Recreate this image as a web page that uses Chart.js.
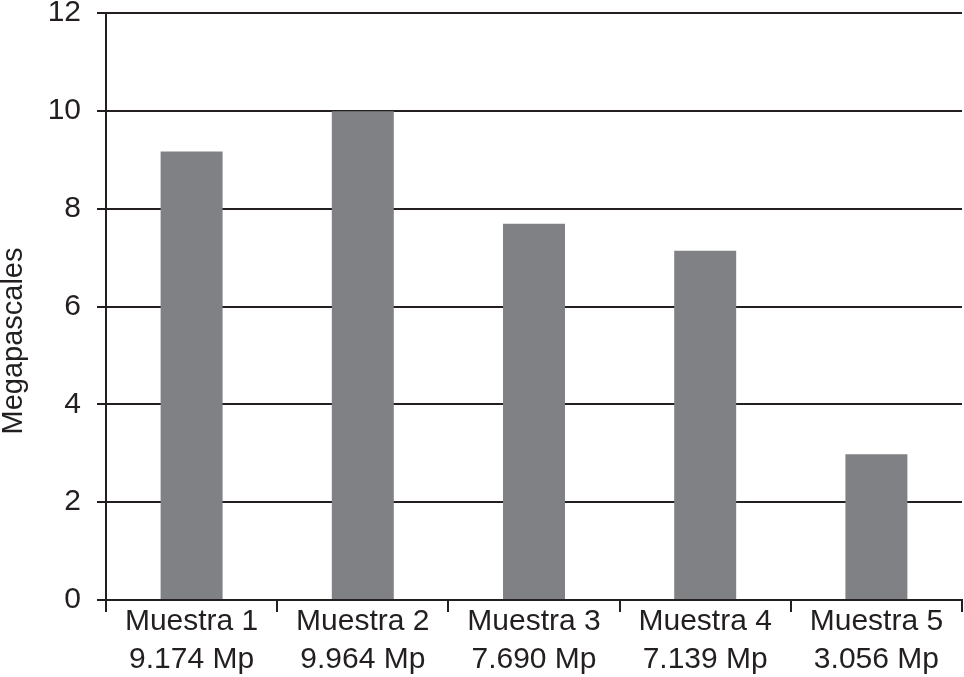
<!DOCTYPE html>
<html>
<head>
<meta charset="utf-8">
<script src="https://cdn.jsdelivr.net/npm/chart.js@4/dist/chart.umd.min.js"></script>
<style>
  html, body { margin: 0; padding: 0; background: #fff; }
  #wrap { width: 964px; height: 677px; position: relative; }
</style>
</head>
<body>
<div id="wrap"><canvas id="chart"></canvas></div>
<script>
// Data
const categories = ["Muestra 1", "Muestra 2", "Muestra 3", "Muestra 4", "Muestra 5"];
const valueLabels = ["9.174 Mp", "9.964 Mp", "7.690 Mp", "7.139 Mp", "3.056 Mp"];
const megapascales = [9.17, 9.99, 7.69, 7.14, 2.98];
const yTicks = [0, 2, 4, 6, 8, 10, 12];

const ink = "#231f20";
const fontFamily = "'Liberation Sans', Arial, sans-serif";

// Rotated y-axis title, sitting a bit below the plot centre like the original
const sideTitle = {
    id: "sideTitle",
    afterDraw(chart) {
        const ctx = chart.ctx;
        ctx.save();
        ctx.translate(14, 341);
        ctx.rotate(-Math.PI / 2);
        ctx.fillStyle = ink;
        ctx.font = "29px " + fontFamily;
        ctx.textAlign = "center";
        ctx.textBaseline = "middle";
        ctx.fillText("Megapascales", 0, 0);
        ctx.restore();
    }
};

new Chart(document.getElementById("chart"), {
    type: "bar",
    data: {
        labels: categories.map((c, i) => [c, valueLabels[i]]),
        datasets: [{
            data: megapascales,
            backgroundColor: "#808184",
            borderWidth: 0,
            categoryPercentage: 1,
            barPercentage: 0.362,
        }]
    },
    options: {
        responsive: true,
        maintainAspectRatio: false,
        animation: false,
        layout: { padding: { top: 13, right: 2, left: 0, bottom: 0 } },
        plugins: {
            legend: { display: false },
            tooltip: { enabled: false },
        },
        scales: {
            x: {
                afterFit: (scale) => { scale.height = 77; },
                grid: {
                    offset: true,
                    drawOnChartArea: false,
                    drawTicks: true,
                    tickLength: 12,
                    color: ink,
                    lineWidth: 2,
                },
                border: { color: ink, width: 2 },
                ticks: {
                    color: ink,
                    padding: -9,
                    maxRotation: 0,
                    autoSkip: false,
                    font: { family: fontFamily, size: 30, lineHeight: 1.267 },
                },
            },
            y: {
                min: 0,
                max: 12,
                afterFit: (scale) => {
                    scale.width = 106;
                    scale.paddingTop = 0;
                    scale.paddingBottom = 0;
                },
                afterBuildTicks: (scale) => { scale.ticks = yTicks.map(v => ({ value: v })); },
                grid: {
                    color: ink,
                    lineWidth: 2,
                    drawTicks: true,
                    tickLength: 9,
                },
                border: { color: ink, width: 2 },
                ticks: {
                    color: ink,
                    padding: 16,
                    font: { family: fontFamily, size: 30 },
                },
            },
        },
    },
    plugins: [sideTitle],
});
</script>
</body>
</html>
